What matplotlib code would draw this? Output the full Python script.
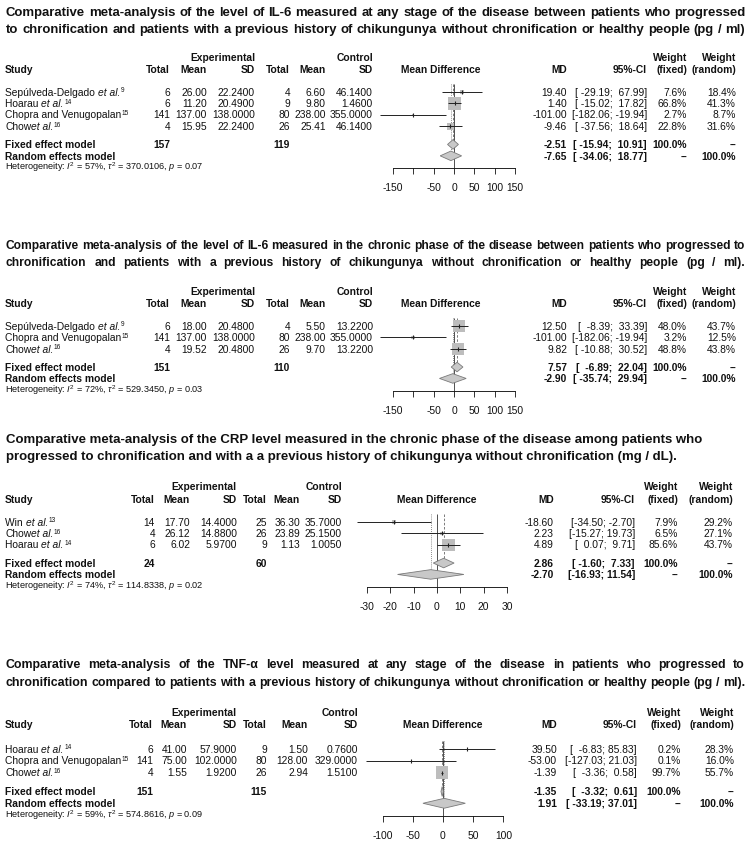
import matplotlib
matplotlib.use("Agg")
import matplotlib.pyplot as plt
from matplotlib.patches import Polygon
from matplotlib import font_manager as fm
import numpy as np

FONT = "Liberation Sans"


def has_font(name):
    try:
        fm.findfont(fm.FontProperties(family=name), fallback_to_default=False)
        return True
    except Exception:
        return False


TFONT = "Liberation Sans Narrow" if has_font("Liberation Sans Narrow") else FONT
plt.rcParams["font.family"] = [FONT, "DejaVu Sans"]
plt.rcParams["mathtext.fontset"] = "custom"
plt.rcParams["mathtext.rm"] = FONT
plt.rcParams["mathtext.it"] = FONT + ":italic"
plt.rcParams["mathtext.bf"] = FONT + ":bold"
plt.rcParams["mathtext.sf"] = FONT

# ------------------------------------------------------------------ DATA
# study labels: (name, italic part, superscript reference)
# Panel 1 : IL-6, any stage
p1_title = ["Comparative meta-analysis of the level of IL-6 measured at any stage of the disease between patients who progressed",
            "to chronification and patients with a previous history of chikungunya without chronification or healthy people (pg / ml)"]
p1_study = [("Sepúlveda-Delgado ", "et al.", "9"), ("Hoarau ", "et al.", "14"),
            ("Chopra and Venugopalan", "", "15"), ("Chow", "et al.", "16")]
p1_exp_total = [6, 6, 141, 4]
p1_exp_mean = [26.00, 11.20, 137.00, 15.95]
p1_exp_sd = [22.24, 20.49, 138.00, 22.24]
p1_ctl_total = [4, 9, 80, 26]
p1_ctl_mean = [6.60, 9.80, 238.00, 25.41]
p1_ctl_sd = [46.14, 1.46, 355.00, 46.14]
p1_md = [19.40, 1.40, -101.00, -9.46]
p1_lo = [-29.19, -15.02, -182.06, -37.56]
p1_hi = [67.99, 17.82, -19.94, 18.64]
p1_w_fixed = [7.6, 66.8, 2.7, 22.8]
p1_w_random = [18.4, 41.3, 8.7, 31.6]
p1_fixed = [-2.51, -15.94, 10.91]
p1_random = [-7.65, -34.06, 18.77]
p1_totals = [157, 119]
p1_het = ["57", "370.0106", "0.07"]
p1_ticks = [-150, -100, -50, 0, 50, 100, 150]
p1_ticklabels = ["-150", "", "-50", "0", "50", "100", "150"]

# Panel 2 : IL-6, chronic phase
p2_title = ["Comparative meta-analysis of the level of IL-6 measured in the chronic phase of the disease between patients who progressed to",
            "chronification and patients with a previous history of chikungunya without chronification or healthy people (pg / ml)."]
p2_study = [("Sepúlveda-Delgado ", "et al.", "9"), ("Chopra and Venugopalan", "", "15"),
            ("Chow", "et al.", "16")]
p2_exp_total = [6, 141, 4]
p2_exp_mean = [18.00, 137.00, 19.52]
p2_exp_sd = [20.48, 138.00, 20.48]
p2_ctl_total = [4, 80, 26]
p2_ctl_mean = [5.50, 238.00, 9.70]
p2_ctl_sd = [13.22, 355.00, 13.22]
p2_md = [12.50, -101.00, 9.82]
p2_lo = [-8.39, -182.06, -10.88]
p2_hi = [33.39, -19.94, 30.52]
p2_w_fixed = [48.0, 3.2, 48.8]
p2_w_random = [43.7, 12.5, 43.8]
p2_fixed = [7.57, -6.89, 22.04]
p2_random = [-2.90, -35.74, 29.94]
p2_totals = [151, 110]
p2_het = ["72", "529.3450", "0.03"]
p2_ticks = [-150, -100, -50, 0, 50, 100, 150]
p2_ticklabels = ["-150", "", "-50", "0", "50", "100", "150"]

# Panel 3 : CRP, chronic phase
p3_title = ["Comparative meta-analysis of the CRP level measured in the chronic phase of the disease among patients who",
            "progressed to chronification and with a a previous history of chikungunya without chronification (mg / dL)."]
p3_study = [("Win ", "et al.", "13"), ("Chow", "et al.", "16"), ("Hoarau ", "et al.", "14")]
p3_exp_total = [14, 4, 6]
p3_exp_mean = [17.70, 26.12, 6.02]
p3_exp_sd = [14.40, 14.88, 5.97]
p3_ctl_total = [25, 26, 9]
p3_ctl_mean = [36.30, 23.89, 1.13]
p3_ctl_sd = [35.70, 25.15, 1.005]
p3_md = [-18.60, 2.23, 4.89]
p3_lo = [-34.50, -15.27, 0.07]
p3_hi = [-2.70, 19.73, 9.71]
p3_w_fixed = [7.9, 6.5, 85.6]
p3_w_random = [29.2, 27.1, 43.7]
p3_fixed = [2.86, -1.60, 7.33]
p3_random = [-2.70, -16.93, 11.54]
p3_totals = [24, 60]
p3_het = ["74", "114.8338", "0.02"]
p3_ticks = [-30, -20, -10, 0, 10, 20, 30]
p3_ticklabels = ["-30", "-20", "-10", "0", "10", "20", "30"]

# Panel 4 : TNF-alpha, any stage
p4_title = ["Comparative meta-analysis of the TNF-α level measured at any stage of the disease in patients who progressed to",
            "chronification compared to patients with a previous history of chikungunya without chronification or healthy people (pg / ml)."]
p4_study = [("Hoarau ", "et al.", "14"), ("Chopra and Venugopalan", "", "15"), ("Chow", "et al.", "16")]
p4_exp_total = [6, 141, 4]
p4_exp_mean = [41.00, 75.00, 1.55]
p4_exp_sd = [57.90, 102.00, 1.92]
p4_ctl_total = [9, 80, 26]
p4_ctl_mean = [1.50, 128.00, 2.94]
p4_ctl_sd = [0.76, 329.00, 1.51]
p4_md = [39.50, -53.00, -1.39]
p4_lo = [-6.83, -127.03, -3.36]
p4_hi = [85.83, 21.03, 0.58]
p4_w_fixed = [0.2, 0.1, 99.7]
p4_w_random = [28.3, 16.0, 55.7]
p4_fixed = [-1.35, -3.32, 0.61]
p4_random = [1.91, -33.19, 37.01]
p4_totals = [151, 115]
p4_het = ["59", "574.8616", "0.09"]
p4_ticks = [-100, -50, 0, 50, 100]
p4_ticklabels = ["-100", "-50", "0", "50", "100"]

# ------------------------------------------------------------------ LAYOUT
W, H = 750, 850
BODY = 7.4
HET = 6.6
SUP = 4.7
SQ_MAX = 12.5          # px, side of the largest square
GREY = "#bdbdbd"
GAP = 0.6              # extra rows between the last study and the fixed-effect row
AXIS_OFF = 2.7         # axis line position (rows after the last study + 1)
HET_OFF = 2.55

L = [
    dict(title_y=[11, 28], justify=[True, True], tx1=745, h1=57, h2=69, y0=92, dy=11.4,
         cols=[170, 207, 255, 290, 326, 373], md_x=567, ci_x=647, wf_x=687, wr_x=736,
         mdh_x=441, zero=454, ppu=0.406, xlim=(-200, 200)),
    dict(title_y=[245, 262], justify=[True, True], tx1=745, h1=291, h2=303, y0=326, dy=11.4,
         cols=[170, 207, 255, 290, 326, 373], md_x=567, ci_x=647, wf_x=687, wr_x=736,
         mdh_x=441, zero=454, ppu=0.406, xlim=(-200, 200)),
    dict(title_y=[438, 455], justify=[False, False], tx1=703, h1=486, h2=499, y0=522, dy=11.4,
         cols=[155, 190, 237, 267, 300, 342], md_x=554, ci_x=635, wf_x=678, wr_x=733,
         mdh_x=437, zero=437, ppu=2.33, xlim=(-40, 40)),
    dict(title_y=[664, 682], justify=[True, True], tx1=745, h1=712, h2=724, y0=749, dy=11.8,
         cols=[153, 187, 237, 267, 308, 358], md_x=557, ci_x=637, wf_x=681, wr_x=734,
         mdh_x=443, zero=443, ppu=0.604, xlim=(-140, 140)),
]

PANELS = [
    dict(title=p1_title, study=p1_study, cols=[p1_exp_total, p1_exp_mean, p1_exp_sd, p1_ctl_total, p1_ctl_mean, p1_ctl_sd],
         md=p1_md, lo=p1_lo, hi=p1_hi, wf=p1_w_fixed, wr=p1_w_random, fixed=p1_fixed, random=p1_random,
         totals=p1_totals, het=p1_het, ticks=p1_ticks, ticklabels=p1_ticklabels),
    dict(title=p2_title, study=p2_study, cols=[p2_exp_total, p2_exp_mean, p2_exp_sd, p2_ctl_total, p2_ctl_mean, p2_ctl_sd],
         md=p2_md, lo=p2_lo, hi=p2_hi, wf=p2_w_fixed, wr=p2_w_random, fixed=p2_fixed, random=p2_random,
         totals=p2_totals, het=p2_het, ticks=p2_ticks, ticklabels=p2_ticklabels),
    dict(title=p3_title, study=p3_study, cols=[p3_exp_total, p3_exp_mean, p3_exp_sd, p3_ctl_total, p3_ctl_mean, p3_ctl_sd],
         md=p3_md, lo=p3_lo, hi=p3_hi, wf=p3_w_fixed, wr=p3_w_random, fixed=p3_fixed, random=p3_random,
         totals=p3_totals, het=p3_het, ticks=p3_ticks, ticklabels=p3_ticklabels),
    dict(title=p4_title, study=p4_study, cols=[p4_exp_total, p4_exp_mean, p4_exp_sd, p4_ctl_total, p4_ctl_mean, p4_ctl_sd],
         md=p4_md, lo=p4_lo, hi=p4_hi, wf=p4_w_fixed, wr=p4_w_random, fixed=p4_fixed, random=p4_random,
         totals=p4_totals, het=p4_het, ticks=p4_ticks, ticklabels=p4_ticklabels),
]

COL_FMT = ["{:d}", "{:.2f}", "{:.4f}", "{:d}", "{:.2f}", "{:.4f}"]
HEAD2 = ["Total", "Mean", "SD", "Total", "Mean", "SD"]

# ------------------------------------------------------------------ DRAW
fig = plt.figure(figsize=(W / 100, H / 100), dpi=100)
fig.patch.set_facecolor("white")
renderer = fig.canvas.get_renderer()
X0 = 6


def fx(x):
    return x / W


def fy(y):
    return 1 - y / H


def txt(x, y, s, ha="left", size=BODY, weight="normal", style="normal", family=None, dy_base=None):
    base = 0.36 * size * 100 / 72 if dy_base is None else dy_base
    kw = {} if family is None else {"family": [family, "DejaVu Sans"]}
    return fig.text(fx(x), fy(y + base), s, ha=ha, va="baseline", fontsize=size,
                    fontweight=weight, style=style, color="#111111", **kw)


def width_px(s, size, weight="normal", style="normal", family=None):
    kw = {} if family is None else {"family": [family, "DejaVu Sans"]}
    t = fig.text(0, 0, s, fontsize=size, fontweight=weight, style=style, **kw)
    w = t.get_window_extent(renderer).width
    t.remove()
    return w


SPACE = width_px("a a", BODY) - width_px("aa", BODY)


def study_label(x, y, parts):
    name, ital, sup = parts
    base_off = 0.36 * BODY * 100 / 72
    txt(x, y, name)
    x += width_px(name.rstrip(), BODY) + (SPACE if name.endswith(" ") else 0)
    if ital:
        txt(x, y, ital, style="italic")
        x += width_px(ital, BODY, style="italic")
    txt(x + 0.5, y, sup, size=SUP, dy_base=base_off - 3.3)


def title_line(y, s, justify, size, x1):
    if not justify:
        txt(X0, y, s, size=size, weight="bold", family=TFONT)
        return
    words = s.split(" ")
    ws = [width_px(w, size, "bold", family=TFONT) for w in words]
    gap = (x1 - X0 - sum(ws)) / (len(words) - 1)
    x = X0
    for w, wd in zip(words, ws):
        txt(x, y, w, size=size, weight="bold", family=TFONT)
        x += wd + gap


def ci_strings(lo, hi):
    los = [f"{v:.2f}" for v in lo]
    his = [f"{v:.2f}" for v in hi]
    a = max(len(s) for s in los)
    b = max(len(s) for s in his)
    return ["[" + l.rjust(a) + "; " + h.rjust(b) + "]" for l, h in zip(los, his)]


for P, G in zip(PANELS, L):
    n = len(P["study"])
    y0, dy = G["y0"], G["dy"]
    row_y = lambda r: y0 + r * dy
    r_fix, r_ran = n + GAP, n + GAP + 1
    r_axis, r_het = n + AXIS_OFF, n + HET_OFF

    # titles: per-panel size so the widest line fills the panel width
    nat = max(width_px(ln, 10, "bold", family=TFONT) for ln in P["title"])
    tsize = 10 * (G["tx1"] - X0) / nat
    for ln, ty, j in zip(P["title"], G["title_y"], G["justify"]):
        title_line(ty, ln, j, tsize, G["tx1"])

    # headers
    txt(G["cols"][2], G["h1"], "Experimental", ha="right", weight="bold")
    txt(G["cols"][5], G["h1"], "Control", ha="right", weight="bold")
    txt(G["wf_x"], G["h1"], "Weight", ha="right", weight="bold")
    txt(G["wr_x"], G["h1"], "Weight", ha="right", weight="bold")
    txt(5, G["h2"], "Study", weight="bold")
    for cx, h in zip(G["cols"], HEAD2):
        txt(cx, G["h2"], h, ha="right", weight="bold")
    txt(G["mdh_x"], G["h2"], "Mean Difference", ha="center", weight="bold")
    txt(G["md_x"], G["h2"], "MD", ha="right", weight="bold")
    txt(G["ci_x"], G["h2"], "95%-CI", ha="right", weight="bold")
    txt(G["wf_x"], G["h2"], "(fixed)", ha="right", weight="bold")
    txt(G["wr_x"], G["h2"], "(random)", ha="right", weight="bold")

    # study rows
    ci_all = ci_strings(P["lo"] + [P["fixed"][1], P["random"][1]],
                        P["hi"] + [P["fixed"][2], P["random"][2]])
    for i in range(n):
        y = row_y(i)
        study_label(5, y, P["study"][i])
        for cx, col, fmt in zip(G["cols"], P["cols"], COL_FMT):
            txt(cx, y, fmt.format(col[i]), ha="right")
        txt(G["md_x"], y, f"{P['md'][i]:.2f}", ha="right")
        txt(G["ci_x"], y, ci_all[i], ha="right")
        txt(G["wf_x"], y, f"{P['wf'][i]:.1f}%", ha="right")
        txt(G["wr_x"], y, f"{P['wr'][i]:.1f}%", ha="right")

    # summary rows
    yf, yr = row_y(r_fix), row_y(r_ran)
    txt(5, yf, "Fixed effect model", weight="bold")
    txt(G["cols"][0], yf, str(P["totals"][0]), ha="right", weight="bold")
    txt(G["cols"][3], yf, str(P["totals"][1]), ha="right", weight="bold")
    txt(G["md_x"], yf, f"{P['fixed'][0]:.2f}", ha="right", weight="bold")
    txt(G["ci_x"], yf, ci_all[n], ha="right", weight="bold")
    txt(G["wf_x"], yf, "100.0%", ha="right", weight="bold")
    txt(G["wr_x"], yf, "--", ha="right", weight="bold")
    txt(5, yr, "Random effects model", weight="bold")
    txt(G["md_x"], yr, f"{P['random'][0]:.2f}", ha="right", weight="bold")
    txt(G["ci_x"], yr, ci_all[n + 1], ha="right", weight="bold")
    txt(G["wf_x"], yr, "--", ha="right", weight="bold")
    txt(G["wr_x"], yr, "100.0%", ha="right", weight="bold")
    I2, tau2, pv = P["het"]
    txt(5, row_y(r_het), rf"Heterogeneity: $I^2$ = {I2}%, $\tau^2$ = {tau2}, $p$ = {pv}", size=HET)

    # forest axes
    top_r = -0.9
    left = G["zero"] + G["xlim"][0] * G["ppu"]
    wid = (G["xlim"][1] - G["xlim"][0]) * G["ppu"]
    top_px, bot_px = row_y(top_r), row_y(r_axis)
    ax = fig.add_axes([fx(left), fy(bot_px), wid / W, (bot_px - top_px) / H])
    ax.set_xlim(*G["xlim"])
    ax.set_ylim(r_axis, top_r)
    ax.patch.set_alpha(0)
    for s in ("top", "left", "right"):
        ax.spines[s].set_visible(False)
    ax.spines["bottom"].set_bounds(P["ticks"][0], P["ticks"][-1])
    ax.spines["bottom"].set_linewidth(0.6)
    ax.set_yticks([])
    ax.set_xticks(P["ticks"])
    ax.set_xticklabels(P["ticklabels"])
    ax.tick_params(axis="x", length=4.5, width=0.6, labelsize=BODY, pad=6, colors="#111111")

    rows = np.arange(n)
    wf = np.array(P["wf"])
    side = SQ_MAX * np.sqrt(wf / wf.max())
    ax.scatter(P["md"], rows, marker="s", s=(side * 0.72) ** 2, color=GREY,
               edgecolors="none", zorder=2)
    ax.hlines(rows, P["lo"], P["hi"], color="#222222", lw=0.7, zorder=3)
    ax.plot(P["md"], rows, "|", ms=3, mew=0.8, color="#222222", zorder=4)

    # reference lines
    ax.vlines(0, top_r + 0.2, r_axis, color="#333333", lw=0.6, zorder=1)
    ax.vlines(P["fixed"][0], top_r + 0.2, r_fix - 0.4, color="#666666", lw=0.6,
              linestyles=(0, (3, 2)), zorder=1)
    ax.vlines(P["random"][0], top_r + 0.2, r_ran - 0.4, color="#666666", lw=0.6,
              linestyles=(0, (1, 1.5)), zorder=1)

    # diamonds
    for est, r in ((P["fixed"], r_fix), (P["random"], r_ran)):
        m, lo, hi = est
        ax.add_patch(Polygon([(lo, r), (m, r - 0.42), (hi, r), (m, r + 0.42)], closed=True,
                             facecolor="#c8c8c8", edgecolor="#7a7a7a", lw=0.6, zorder=3))

fig.savefig("out.png", dpi=100, facecolor="white")
